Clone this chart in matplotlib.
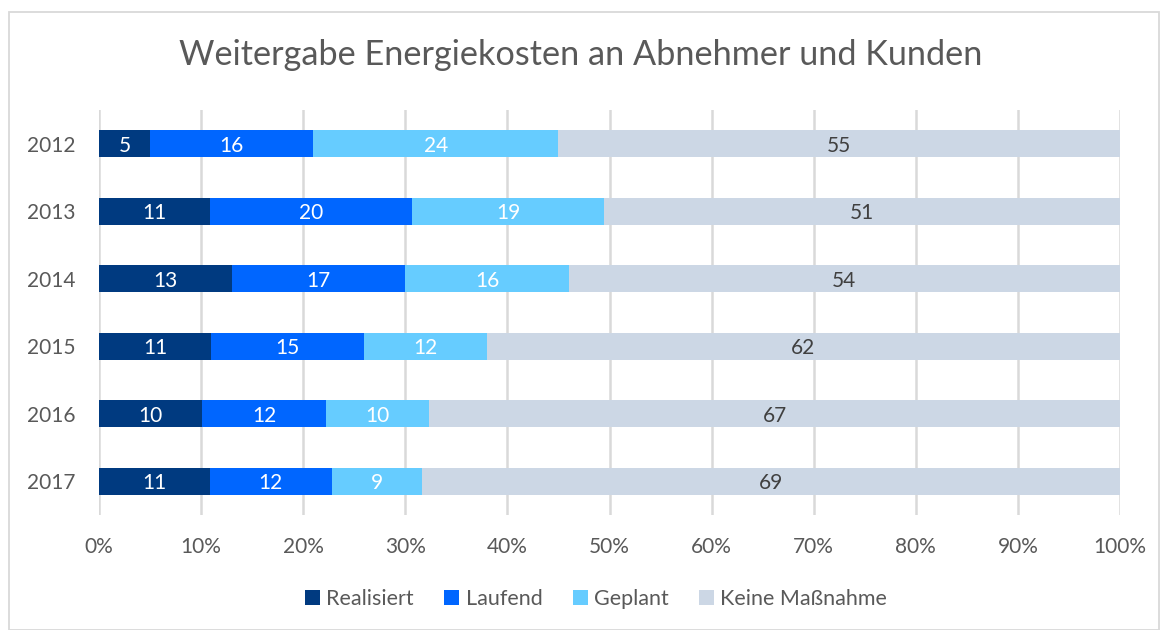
import numpy as np
import matplotlib.pyplot as plt
from matplotlib.patches import Rectangle

years = ['2012', '2013', '2014', '2015', '2016', '2017']
realisiert = [5, 11, 13, 11, 10, 11]
laufend = [16, 20, 17, 15, 12, 12]
geplant = [24, 19, 16, 12, 10, 9]
keine = [55, 51, 54, 62, 67, 69]

series = [('Realisiert', realisiert, '#003A80', 'white'),
          ('Laufend', laufend, '#0066FF', 'white'),
          ('Geplant', geplant, '#66CCFF', 'white'),
          ('Keine Maßnahme', keine, '#CCD7E5', '#404040')]

plt.rcParams['font.family'] = ['Lato', 'DejaVu Sans']
text_col = '#595959'

fig = plt.figure(figsize=(11.62, 6.3), dpi=100)
fig.patches.append(Rectangle((9 / 1162, 0), 1150 / 1162, 1 - 12 / 630, transform=fig.transFigure,
                             fill=False, edgecolor='#D9D9D9', linewidth=1.3))
ax = fig.add_axes([99 / 1162, 1 - 515 / 630, 1021 / 1162, 405 / 630])

# stacked to 100 %
totals = np.sum([s[1] for s in series], axis=0)
y = np.arange(len(years))
left = np.zeros(len(years))
for name, vals, col, tcol in series:
    w = np.array(vals) / totals
    ax.barh(y, w, left=left, height=0.4, color=col, label=name, zorder=3)
    for i, v in enumerate(vals):
        ax.text(left[i] + w[i] / 2, y[i] + 0.03, str(v), ha='center', va='center',
                color=tcol, fontsize=15, zorder=4)
    left += w

ax.set_xlim(0, 1)
ax.set_ylim(len(years) - 0.5, -0.5)
ax.set_yticks(y)
ax.set_yticklabels(years)
ax.set_xticks(np.linspace(0, 1, 11))
ax.set_xticklabels([f'{int(t)}%' for t in np.linspace(0, 100, 11)])
ax.tick_params(axis='both', length=0, labelsize=15, labelcolor=text_col)
ax.tick_params(axis='x', pad=16)
ax.tick_params(axis='y', pad=17)
ax.grid(axis='x', color='#D9D9D9', linewidth=1.8, zorder=0)
for sp in ax.spines.values():
    sp.set_visible(False)

fig.text(0.5, 1 - 55 / 630, 'Weitergabe Energiekosten an Abnehmer und Kunden',
         ha='center', va='center', fontsize=24.7, color=text_col)

fig.legend(loc='center', bbox_to_anchor=(0.513, 1 - 599 / 630), ncol=4, frameon=False,
           fontsize=15.5, labelcolor=text_col, handlelength=0.7, handleheight=0.7,
           handletextpad=0.3, columnspacing=1.4)

fig.savefig('out.png', dpi=100)
